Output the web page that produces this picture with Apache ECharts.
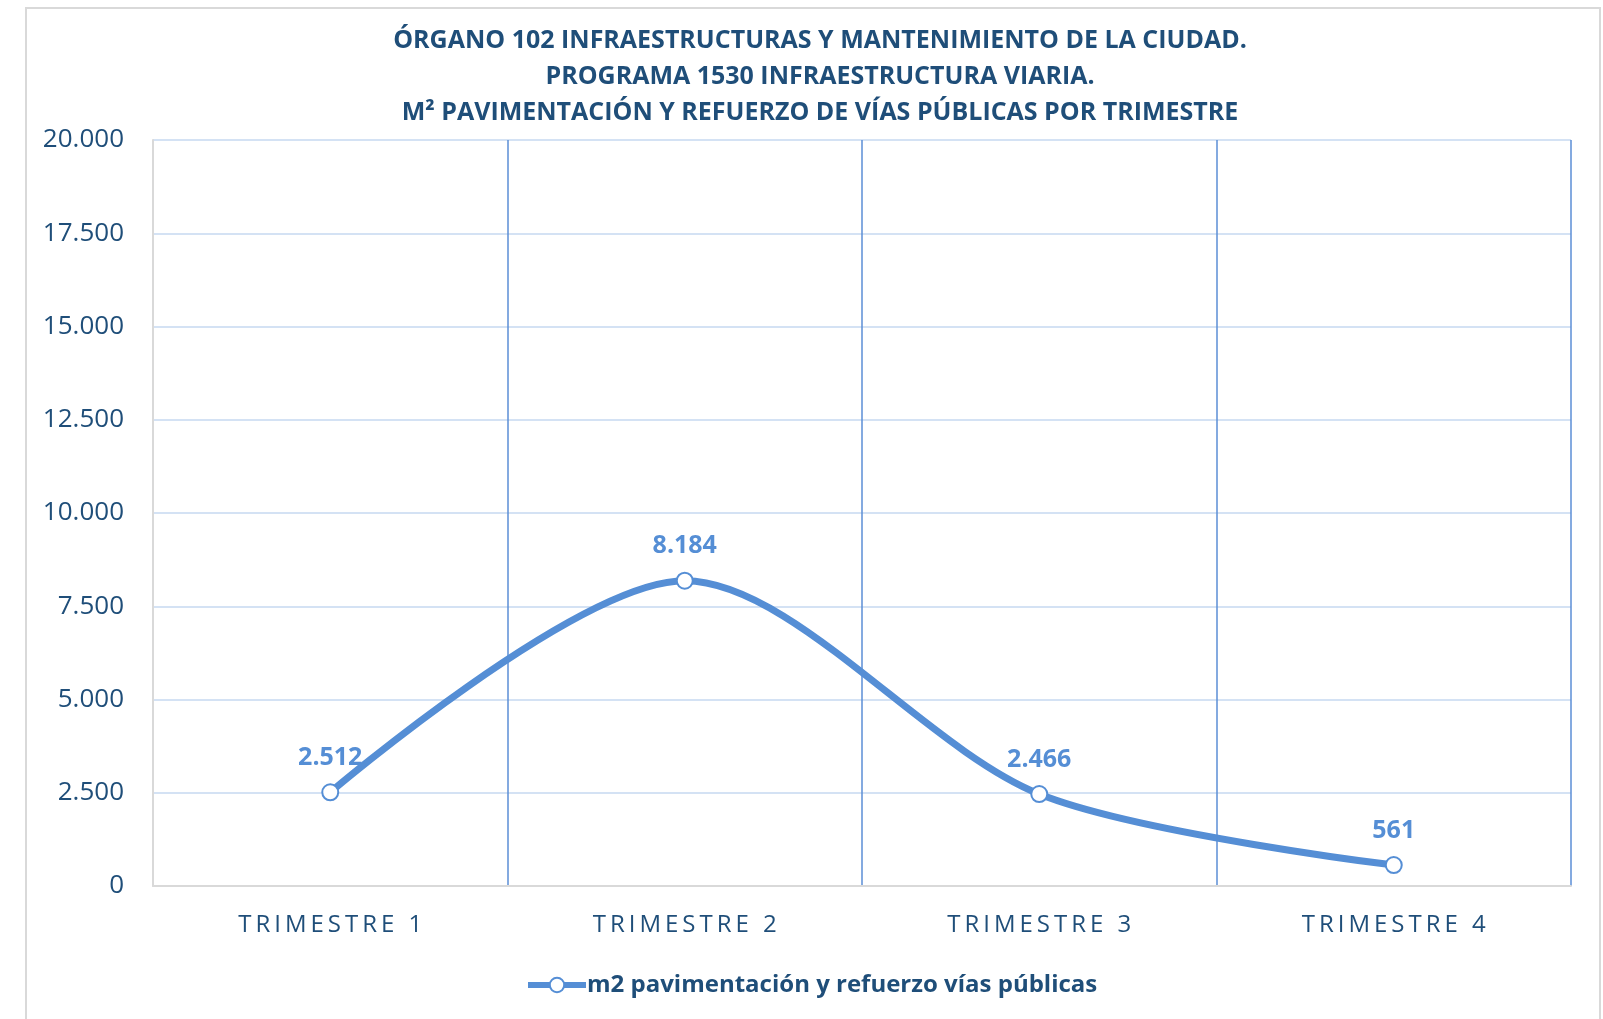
<!DOCTYPE html>
<html>
<head>
<meta charset="utf-8">
<script src="https://cdn.jsdelivr.net/npm/echarts@6/dist/echarts.min.js"></script>
<style>
  html, body { margin: 0; padding: 0; background: #ffffff; }
  #chart { width: 1603px; height: 1019px; }
</style>
</head>
<body>
<div id="chart"></div>
<script>
// Chart text
const titleLines = [
  'ÓRGANO 102 INFRAESTRUCTURAS Y MANTENIMIENTO DE LA CIUDAD.',
  'PROGRAMA 1530 INFRAESTRUCTURA VIARIA.',
  'M² PAVIMENTACIÓN Y REFUERZO DE VÍAS PÚBLICAS POR TRIMESTRE'
];
const seriesName = 'm2 pavimentación y refuerzo vías públicas';

// Quarters and paved surface (m²)
const categories = ['TRIMESTRE 1', 'TRIMESTRE 2', 'TRIMESTRE 3', 'TRIMESTRE 4'];
const values = [2512, 8184, 2466, 561];

// Value axis range
const yMin = 0;
const yMax = 20000;
const yStep = 2500;

const DARK = '#1f4e79';
const LINE = '#558ed5';
const FONT = '"Open Sans", "Noto Sans", sans-serif';

// Spanish thousands separator ("2.500")
function fmt(v) {
  return String(Math.round(v)).replace(/\B(?=(\d{3})+(?!\d))/g, '.');
}
// Widely tracked category labels
function spread(s) {
  return s.split('').join('\u2009');
}

const chart = echarts.init(document.getElementById('chart'), null, { renderer: 'canvas' });

chart.setOption({
  backgroundColor: '#ffffff',
  animation: false,
  textStyle: { fontFamily: FONT },
  graphic: [{
    type: 'rect',
    z: -10,
    shape: { x: 26, y: 8, width: 1574, height: 1030 },
    style: { fill: 'none', stroke: '#d9d9d9', lineWidth: 2 }
  }],
  title: {
    text: titleLines.join('\n'),
    left: 815,
    textAlign: 'center',
    top: 18,
    textStyle: {
      fontFamily: FONT,
      fontSize: 25,
      fontWeight: 'bold',
      color: DARK,
      lineHeight: 36
    }
  },
  grid: { left: 153, right: 32, top: 140, bottom: 133 },
  xAxis: {
    type: 'category',
    data: categories,
    boundaryGap: true,
    axisLine: { show: true, lineStyle: { color: '#d9d9d9', width: 2 } },
    axisTick: { show: false },
    axisLabel: {
      margin: 27,
      fontSize: 24,
      color: DARK,
      fontFamily: FONT,
      formatter: spread
    },
    splitLine: { show: true, lineStyle: { color: '#5b8ed6', width: 1.5 } }
  },
  yAxis: {
    type: 'value',
    min: yMin,
    max: yMax,
    interval: yStep,
    axisLine: { show: true, lineStyle: { color: '#d9d9d9', width: 2 } },
    axisTick: { show: false },
    axisLabel: {
      margin: 29,
      fontSize: 26,
      color: DARK,
      fontFamily: FONT,
      formatter: fmt
    },
    splitLine: { show: true, lineStyle: { color: '#c6d9f0', width: 1.5 } }
  },
  legend: {
    left: 525,
    top: 973,
    padding: 0,
    itemWidth: 58,
    itemHeight: 18,
    itemGap: 10,
    lineStyle: { width: 6, color: LINE },
    textStyle: { fontFamily: FONT, fontSize: 24, fontWeight: 'bold', color: DARK, padding: [0, 0, 0, -4] },
    data: [seriesName]
  },
  series: [{
    name: seriesName,
    type: 'line',
    data: values,
    smooth: 0.3,
    symbol: 'circle',
    symbolSize: 16,
    lineStyle: { color: LINE, width: 7 },
    itemStyle: { color: '#ffffff', borderColor: LINE, borderWidth: 2 },
    label: {
      show: true,
      position: 'top',
      distance: 13,
      fontFamily: FONT,
      fontSize: 25,
      fontWeight: 'bold',
      color: LINE,
      formatter: p => fmt(p.value)
    },
    z: 5
  }]
});
</script>
</body>
</html>
